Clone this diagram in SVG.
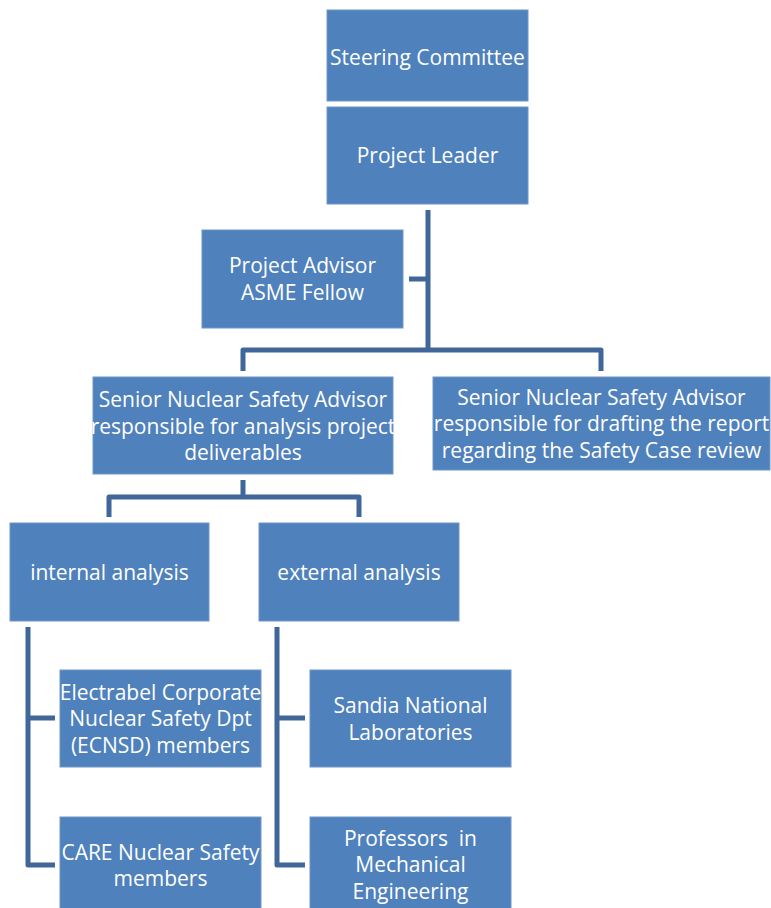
<svg xmlns="http://www.w3.org/2000/svg" width="771" height="908" viewBox="0 0 771 908">
<style>
.box{fill:#4F81BD;stroke:#6E96C8;stroke-width:1}
.t{fill:#FFFFFF;font-family:"Open Sans","Liberation Sans",sans-serif;font-size:21px;text-anchor:middle;white-space:pre}
.c{fill:none;stroke:#41679A;stroke-width:5;stroke-linejoin:round}
</style>
<rect width="771" height="908" fill="#FFFFFF"/>
<g id="connectors">
<path class="c" d="M428,210 V350 M409,279 H428 M243,371 V350 H601 V371"/>
<path class="c" d="M243,480 V497 M109,517 V497 H359 V517"/>
<path class="c" d="M55,718 H28 V627 M28,718 V865 H55"/>
<path class="c" d="M305,718 H277 V627 M277,718 V865 H305"/>
</g>
<g id="steering"><rect class="box" x="327" y="10" width="201" height="91"/><text class="t" x="427.5" y="65">Steering Committee</text></g>
<g id="leader"><rect class="box" x="327" y="107" width="201" height="97"/><text class="t" x="427.5" y="163">Project Leader</text></g>
<g id="advisor"><rect class="box" x="202" y="230" width="201" height="98"/><text class="t" x="302.5" y="273">Project Advisor</text><text class="t" x="302.5" y="300">ASME Fellow</text></g>
<g id="senior-analysis"><rect class="box" x="93" y="377" width="300" height="97"/><text class="t" x="243" y="407">Senior Nuclear Safety Advisor</text><text class="t" x="243" y="434">responsible for analysis project</text><text class="t" x="243" y="460">deliverables</text></g>
<g id="senior-report"><rect class="box" x="433" y="377" width="337" height="93"/><text class="t" x="601.5" y="405">Senior Nuclear Safety Advisor</text><text class="t" x="601.5" y="431">responsible for drafting the report</text><text class="t" x="601.5" y="458">regarding the Safety Case review</text></g>
<g id="internal"><rect class="box" x="10" y="523" width="199" height="98"/><text class="t" x="109.5" y="580">internal analysis</text></g>
<g id="external"><rect class="box" x="259" y="523" width="200" height="98"/><text class="t" x="359" y="580">external analysis</text></g>
<g id="ecnsd"><rect class="box" x="60" y="670" width="201" height="97"/><text class="t" x="160.5" y="700">Electrabel Corporate</text><text class="t" x="160.5" y="726">Nuclear Safety Dpt</text><text class="t" x="160.5" y="753">(ECNSD) members</text></g>
<g id="care"><rect class="box" x="60" y="817" width="201" height="97"/><text class="t" x="160.5" y="860">CARE Nuclear Safety</text><text class="t" x="160.5" y="886">members</text></g>
<g id="sandia"><rect class="box" x="310" y="670" width="201" height="97"/><text class="t" x="410.5" y="713">Sandia National</text><text class="t" x="410.5" y="740">Laboratories</text></g>
<g id="professors"><rect class="box" x="310" y="817" width="201" height="97"/><text class="t" x="410.5" y="846">Professors  in</text><text class="t" x="410.5" y="872">Mechanical</text><text class="t" x="410.5" y="899">Engineering</text></g>
</svg>
